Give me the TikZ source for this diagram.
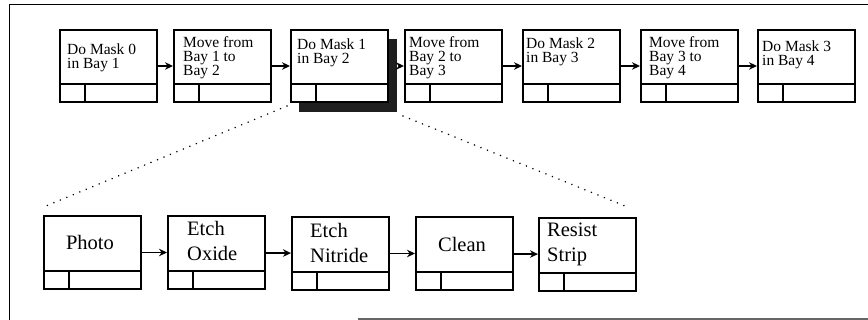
\documentclass[tikz,border=0pt]{standalone}
\usepackage{fontspec}
\setmainfont{Liberation Serif}
\usetikzlibrary{arrows.meta}
\tikzset{
  pbox/.style={draw=black, line width=2pt, fill=white, minimum width=97pt, minimum height=72pt,
    inner sep=0pt, anchor=north west,
    path picture={
      \draw[line width=1.8pt] ([yshift=18pt]path picture bounding box.south west) -- ([yshift=18pt]path picture bounding box.south east);
      \draw[line width=1.8pt] ([xshift=25pt]path picture bounding box.south west) -- ([xshift=25pt,yshift=18pt]path picture bounding box.south west);
    }},
  lbox/.style={pbox, minimum height=73pt},
  ttxt/.style={anchor=north west, inner sep=0pt, align=left, font=\fontsize{15.5}{14}\selectfont},
  btxt/.style={anchor=north west, inner sep=0pt, align=left, font=\fontsize{20.5}{25}\selectfont},
  ctxt/.style={anchor=base, inner sep=0pt, font=\fontsize{20.5}{25}\selectfont},
  arr/.style={line width=1.8pt, -{Stealth[length=8pt,width=7.5pt]}},
  dots/.style={line width=1.7pt, line cap=round, dash pattern=on 0.01pt off 7pt},
}
\begin{document}
\begin{tikzpicture}[x=1pt,y=-1pt]
\useasboundingbox (0,0) rectangle (868,320);
% frame
\draw[line width=1.8pt] (9.5,320) -- (9.5,4.5) -- (868,4.5);
\draw[line width=1.5pt, black!60] (358,319) -- (868,319);
% shadow
\fill[black!88] (299,39) rectangle (397,112);
% top row
\node[pbox] (t1) at (59,29) {};
\node[pbox] (t2) at (173,29) {};
\node[pbox] (t3) at (290,29) {};
\node[pbox] (t4) at (404,29) {};
\node[pbox] (t5) at (522,29) {};
\node[pbox] (t6) at (640,29) {};
\node[pbox] (t7) at (757,29) {};
\node[ttxt] (tx1) at (67,44) {Do Mask 0\\in Bay 1};
\node[ttxt] (tx2) at (183,36) {Move from\\Bay 1 to\\Bay 2};
\node[ttxt] (tx3) at (297,39) {Do Mask 1\\in Bay 2};
\node[ttxt] (tx4) at (409,36) {Move from\\Bay 2 to\\Bay 3};
\node[ttxt] (tx5) at (526,38) {Do Mask 2\\in Bay 3};
\node[ttxt] (tx6) at (649,36) {Move from\\Bay 3 to\\Bay 4};
\node[ttxt] (tx7) at (762,41) {Do Mask 3\\in Bay 4};
\draw[arr] (t1) -- (t2);
\draw[arr] (t2) -- (t3);
\draw[arr] (t3.east) ++(10pt,0) coordinate (s3) -- (t4.west);
\draw[arr] (t4) -- (t5);
\draw[arr] (t5) -- (t6);
\draw[arr] (t6) -- (t7);
% bottom row
\node[lbox] (b1) at (43,215) {};
\node[lbox] (b2) at (167,215) {};
\node[lbox] (b3) at (291,216) {};
\node[lbox] (b4) at (415,216) {};
\node[lbox] (b5) at (538,217) {};
\node[ctxt] (bx1) at (90,250) {Photo};
\node[btxt] (bx2) at (187,221) {Etch\\Oxide};
\node[btxt] (bx3) at (310,223) {Etch\\Nitride};
\node[ctxt] (bx4) at (462,252) {Clean};
\node[btxt] (bx5) at (547,223) {Resist\\Strip};
\draw[arr] (b1) -- (b2);
\draw[arr] (b2) -- (b3);
\draw[arr] (b3) -- (b4);
\draw[arr] (b4) -- (b5);
% zoom lines
\coordinate (zl1) at (287,106);
\coordinate (zl2) at (46,206);
\coordinate (zr1) at (403,116);
\coordinate (zr2) at (630,208);
\draw[dots] (zl1) -- (zl2);
\draw[dots] (zr1) -- (zr2);
\end{tikzpicture}
\end{document}
